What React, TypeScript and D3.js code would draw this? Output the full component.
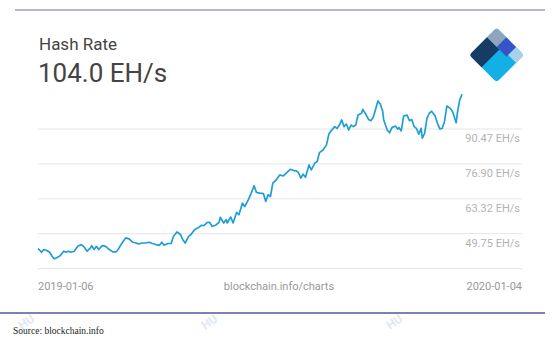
import React from "react";
import * as d3 from "d3";

const dayOffsets = [0,1,3,5,7,10,12,14,16,19,22,24,26,28,31,34,37,39,42,45,46,48,50,52,55,58,61,64,67,69,72,75,78,81,84,86,89,92,95,98,101,104,106,108,111,114,116,119,122,124,126,129,131,134,137,140,142,145,147,149,152,155,156,159,161,162,165,167,170,172,175,177,180,182,185,187,190,193,195,197,199,201,204,207,210,213,216,219,221,223,225,227,229,232,234,237,239,241,244,247,249,251,254,256,258,260,262,264,266,268,270,272,274,277,278,281,283,285,287,289,291,293,295,296,299,301,303,306,308,309,311,313,316,318,320,322,324,326,328,329,331,333,335,337,340,342,344,346,348,350,353,355,358,359,361,363];
const hashRate = [43.9,43.55,42.5,43.55,43.3,42.5,40.95,39.94,40.33,41.2,42.9,42.5,42.9,42.5,42.9,44.8,45.5,44.8,42.9,44.2,45.1,43.55,44.8,43.55,45.1,44.8,43.55,42.65,42.65,43.9,46.1,48.1,47.7,46.4,46.1,45.7,46.1,46.1,46.4,45.9,45.5,45.2,46.4,45.2,45.9,45.9,48.7,50.4,49.4,47.4,46.1,48.7,49.4,51.3,52.0,53.0,52.9,54.1,54.1,52.6,53.0,54.1,56.1,53.9,55.2,53.9,56.2,53.9,58.0,57.1,61.6,60.3,62.9,64.9,68.4,65.8,65.5,65.3,62.3,64.9,64.2,69.4,70.7,72.6,72.2,73.5,74.8,74.3,74.2,73.5,71.4,72.9,71.7,76.5,74.6,77.2,77.8,81.3,82.3,84.3,88.5,89.8,91.4,90.7,92.0,94.0,91.4,92.4,90.1,92.0,91.4,92.0,95.9,96.6,98.1,95.9,94.2,93.7,95.0,98.1,101.4,100.2,97.6,94.0,90.1,89.0,91.0,91.6,90.4,91.1,89.7,95.5,95.9,93.7,94.2,91.4,90.7,88.5,90.7,86.9,88.8,94.6,96.6,97.4,95.5,92.7,90.5,90.7,93.3,99.4,98.5,97.2,92.9,96.6,101.7,104.0];
const gridValues = [90.47, 76.9, 63.32, 49.75, 36.18];
const gridLabels = ["90.47 EH/s", "76.90 EH/s", "63.32 EH/s", "49.75 EH/s", ""];
const xLabels = ["2019-01-06", "blockchain.info/charts", "2020-01-04"];
const title = "Hash Rate";
const currentValue = "104.0 EH/s";
const sourceText = "Source: blockchain.info";

const startDate = new Date(2019, 0, 6);
const endDate = new Date(2020, 0, 4);

export default function App() {
  const W = 559, H = 351;
  const x = d3.scaleTime().domain([startDate, endDate]).range([38, 462]);
  const y = d3.scaleLinear().domain([36.18, 90.47]).range([268.5, 129]);
  const data = dayOffsets.map((d, i) => ({ date: d3.timeDay.offset(startDate, d), v: hashRate[i] }));
  const line = d3.line<{ date: Date; v: number }>().x(d => x(d.date)).y(d => y(d.v)).curve(d3.curveLinear);
  const font = "Roboto, 'Noto Sans', sans-serif";

  // logo geometry (rotated square)
  const s = 39;
  const quad = (u0: number, u1: number, v0: number, v1: number, fill: string, key: string) => (
    <rect key={key} x={u0 * s} y={v0 * s} width={(u1 - u0) * s} height={(v1 - v0) * s} fill={fill} />
  );

  return (
    <svg width={W} height={H} style={{ position: "absolute", left: 0, top: 0 }}>
      <rect x={0} y={0} width={W} height={H} fill="#fff" />
      <line x1={15} x2={545} y1={10} y2={10} stroke="#b9b5cc" strokeWidth={2} />
      <text x={39} y={50} fontFamily={font} fontSize={17} fill="#444">{title}</text>
      <text x={38} y={82} fontFamily={font} fontSize={26} fill="#444">{currentValue}</text>

      <defs>
        <clipPath id="logoClip">
          <rect x={0} y={0} width={s} height={s} rx={4} ry={4} />
        </clipPath>
      </defs>
      <g transform="translate(469,55) rotate(-45)" clipPath="url(#logoClip)">
        {quad(0, 1, 0, 1, "#13afe7", "c")}
        {quad(0, 0.65, 0, 0.45, "#163b64", "n")}
        {quad(0.65, 1, 0, 0.36, "#8ea5bc", "g")}
        {quad(0.65, 1, 0.36, 0.71, "#3853c6", "b")}
        {quad(0.71, 1, 0.71, 1, "#a8d2ea", "l")}
      </g>

      {gridValues.map((v, i) => (
        <g key={i}>
          <line x1={38} x2={522} y1={y(v)} y2={y(v)} stroke="#e6e6e6" strokeWidth={1} />
          {gridLabels[i] && (
            <text x={520} y={y(v) + 10} dominantBaseline="middle" textAnchor="end" fontFamily={font} fontSize={11} fill="#b3b3b3">
              {gridLabels[i]}
            </text>
          )}
        </g>
      ))}

      <path d={line(data) || ""} fill="none" stroke="#1f9ed6" strokeWidth={1.7} strokeLinejoin="round" />

      <text x={38} y={287} dominantBaseline="middle" fontFamily={font} fontSize={11} fill="#999">{xLabels[0]}</text>
      <text x={279} y={287} dominantBaseline="middle" textAnchor="middle" fontFamily={font} fontSize={11} fill="#999">{xLabels[1]}</text>
      <text x={522} y={287} dominantBaseline="middle" textAnchor="end" fontFamily={font} fontSize={11} fill="#999">{xLabels[2]}</text>

      <line x1={0} x2={545} y1={313} y2={313} stroke="#55579a" strokeWidth={1.5} />
      {[22, 205, 390].map((wx, i) => (
        <text key={i} x={wx} y={330} transform={`rotate(-35 ${wx} 330)`} fontFamily={font} fontSize={12} fontWeight="bold" fill="#dfe8f2">HU</text>
      ))}
      <text x={13} y={334} fontFamily="'Liberation Serif', 'DejaVu Serif', serif" fontSize={9.5} fill="#222">{sourceText}</text>
    </svg>
  );
}
